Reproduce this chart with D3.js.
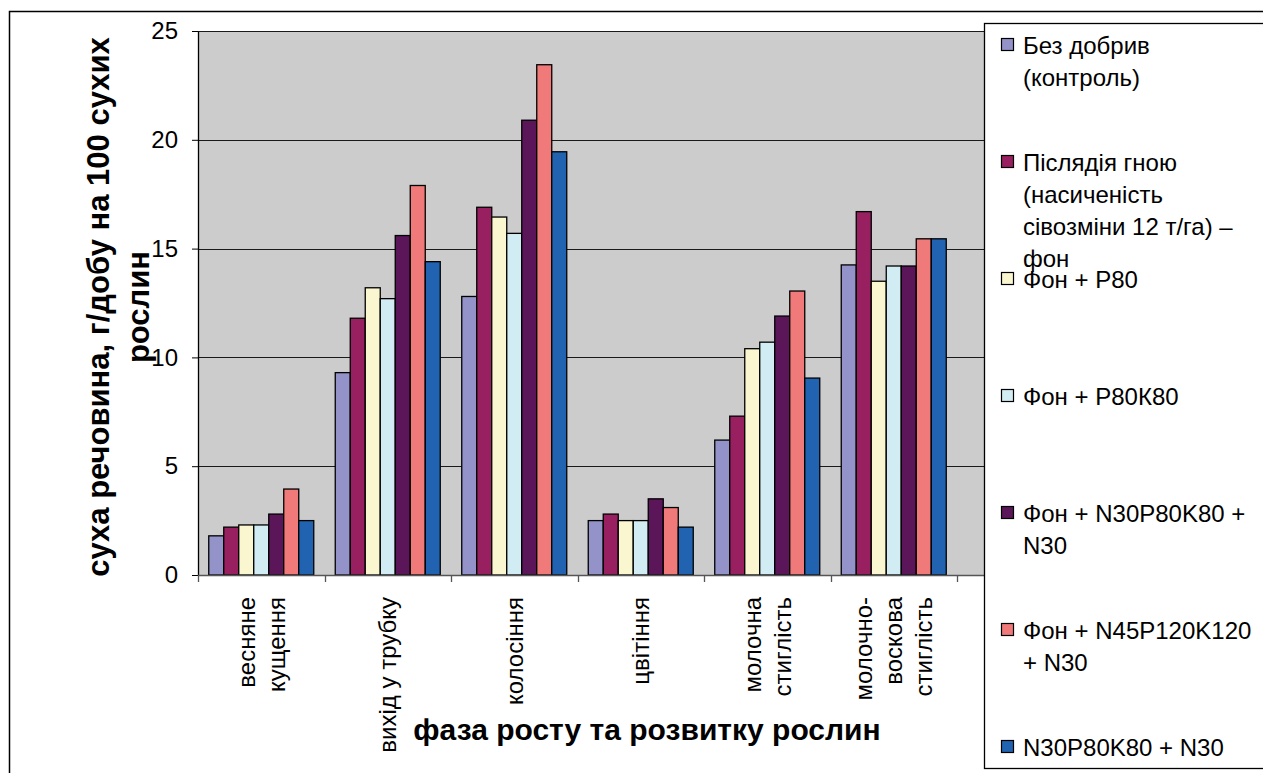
<!DOCTYPE html>
<html>
<head>
<meta charset="utf-8">
<script src="https://cdn.jsdelivr.net/npm/d3@7"></script>
<style>
  html, body { margin: 0; padding: 0; background: #fff; }
  svg { display: block; font-family: "Liberation Sans", Arial, sans-serif; }
</style>
</head>
<body>
<svg id="chart" width="1263" height="773"></svg>
<script>
// Growth phases (x categories) and their tick label lines
const categories = [
  "весняне кущення",
  "вихід у трубку",
  "колосіння",
  "цвітіння",
  "молочна стиглість",
  "молочно-воскова стиглість"
];
const categoryLines = [
  ["весняне", "кущення"],
  ["вихід у трубку"],
  ["колосіння"],
  ["цвітіння"],
  ["молочна", "стиглість"],
  ["молочно-", "воскова", "стиглість"]
];

// Fertilizer variants (series) and legend lines
const seriesNames = [
  "Без добрив (контроль)",
  "Післядія гною (насиченість сівозміни 12 т/га) – фон",
  "Фон + Р80",
  "Фон + Р80К80",
  "Фон + N30P80K80 + N30",
  "Фон + N45P120K120 + N30",
  "N30P80K80 + N30"
];
const legendLines = [
  ["Без добрив", "(контроль)"],
  ["Післядія гною", "(насиченість", "сівозміни 12 т/га) –", "фон"],
  ["Фон + Р80"],
  ["Фон + Р80К80"],
  ["Фон + N30P80K80 +", "N30"],
  ["Фон + N45P120K120", "+ N30"],
  ["N30P80K80 + N30"]
];
const seriesColors = ["#9393C9", "#982060", "#FAF7D0", "#D1ECF2", "#5A1658", "#F07A7A", "#2163B0"];

// Dry matter, g/day per 100 dry plants — one array per series, values by phase
const bezDobryv   = [1.8, 9.3, 12.8, 2.5, 6.2, 14.25];
const pisliadia   = [2.2, 11.8, 16.9, 2.8, 7.3, 16.7];
const fonP80      = [2.3, 13.2, 16.45, 2.5, 10.4, 13.5];
const fonP80K80   = [2.3, 12.7, 15.7, 2.5, 10.7, 14.2];
const fonN30P80   = [2.8, 15.6, 20.9, 3.5, 11.9, 14.2];
const fonN45P120  = [3.95, 17.9, 23.45, 3.1, 13.05, 15.45];
const n30P80K80   = [2.5, 14.4, 19.45, 2.2, 9.05, 15.45];
const seriesValues = [bezDobryv, pisliadia, fonP80, fonP80K80, fonN30P80, fonN45P120, n30P80K80];

const yTicks = [0, 5, 10, 15, 20, 25];

const svg = d3.select("#chart");
const W = 1263, H = 773;

// Plot geometry
const plot = { left: 198, right: 984, top: 31, bottom: 575 };
const bandW = 126.5;

const x = d3.scaleBand()
  .domain(categories)
  .range([plot.left, plot.left + bandW * categories.length])
  .padding(0);
const barPad = 10.75;
const x1 = d3.scaleBand()
  .domain(d3.range(seriesNames.length))
  .range([barPad, x.bandwidth() - barPad])
  .padding(0);
const y = d3.scaleLinear().domain([0, 25]).range([plot.bottom, plot.top]);

svg.append("rect").attr("width", W).attr("height", H).attr("fill", "#fff");

// Outer chart frame
svg.append("rect")
  .attr("x", 9.5).attr("y", 11.5)
  .attr("width", W).attr("height", H)
  .attr("fill", "none").attr("stroke", "#000").attr("stroke-width", 1.5);

// Plot background
svg.append("rect")
  .attr("x", plot.left).attr("y", plot.top)
  .attr("width", plot.right - plot.left).attr("height", plot.bottom - plot.top)
  .attr("fill", "#CCCCCC");

// Horizontal gridlines
svg.append("g").selectAll("line")
  .data(yTicks.filter(d => d > 0))
  .join("line")
  .attr("x1", plot.left).attr("x2", plot.right)
  .attr("y1", d => Math.round(y(d)) + 0.5).attr("y2", d => Math.round(y(d)) + 0.5)
  .attr("stroke", "#1a1a1a").attr("stroke-width", 1);

// Bars
const groups = svg.append("g").selectAll("g")
  .data(categories)
  .join("g")
  .attr("transform", d => `translate(${x(d)},0)`);

groups.selectAll("rect")
  .data((c, ci) => seriesValues.map((vals, si) => ({ si, v: vals[ci] })))
  .join("rect")
  .attr("x", d => x1(d.si))
  .attr("width", x1.bandwidth())
  .attr("y", d => y(d.v))
  .attr("height", d => y(0) - y(d.v))
  .attr("fill", d => seriesColors[d.si])
  .attr("stroke", "#000")
  .attr("stroke-width", 1.3);

// Y axis
const yAxis = svg.append("g")
  .attr("transform", `translate(${plot.left},0)`)
  .call(d3.axisLeft(y).tickValues(yTicks).tickSize(6).tickPadding(14).tickSizeOuter(0));
yAxis.select(".domain").attr("stroke", "#000").attr("stroke-width", 1.3);
yAxis.selectAll(".tick line").attr("stroke", "#000");
yAxis.selectAll(".tick text")
  .attr("font-size", 24).attr("fill", "#000")
  .attr("font-family", "Liberation Sans, Arial, sans-serif");

// X axis line and tick marks at band boundaries
const xAxisG = svg.append("g");
xAxisG.append("line")
  .attr("x1", plot.left).attr("x2", plot.right)
  .attr("y1", plot.bottom + 0.5).attr("y2", plot.bottom + 0.5)
  .attr("stroke", "#555").attr("stroke-width", 1.3);
const boundaries = categories.map(c => x(c)).concat([x.range()[1]]);
xAxisG.selectAll("line.tick")
  .data(boundaries)
  .join("line")
  .attr("class", "tick")
  .attr("x1", d => Math.round(d) + 0.5).attr("x2", d => Math.round(d) + 0.5)
  .attr("y1", plot.bottom).attr("y2", plot.bottom + 7)
  .attr("stroke", "#555").attr("stroke-width", 1.3);

// Rotated category labels
const lineGap = 30;
categories.forEach((c, ci) => {
  const lines = categoryLines[ci];
  const cx = x(c) + x.bandwidth() / 2;
  lines.forEach((ln, li) => {
    const lx = cx + (li - (lines.length - 1) / 2) * lineGap;
    svg.append("text")
      .attr("transform", `translate(${lx},597) rotate(-90)`)
      .attr("text-anchor", "end")
      .attr("dominant-baseline", "central")
      .attr("font-size", 24)
      .attr("fill", "#000")
      .text(ln);
  });
});

// Axis titles
svg.append("text")
  .attr("x", 647).attr("y", 740)
  .attr("text-anchor", "middle")
  .attr("font-size", 30).attr("font-weight", "bold")
  .text("фаза росту та розвитку рослин");

const yTitle = svg.append("text")
  .attr("transform", "translate(118,307) rotate(-90)")
  .attr("text-anchor", "middle")
  .attr("font-size", 31).attr("font-weight", "bold");
yTitle.append("tspan").attr("x", 0).attr("y", -20).attr("dominant-baseline", "central")
  .text("суха речовина, г/добу на 100 сухих");
yTitle.append("tspan").attr("x", 0).attr("y", 20).attr("dominant-baseline", "central")
  .text("рослин");

// Legend
const legend = svg.append("g");
legend.append("rect")
  .attr("x", 984.5).attr("y", 23.5)
  .attr("width", 300).attr("height", 745)
  .attr("fill", "#fff").attr("stroke", "#000").attr("stroke-width", 1.3);

const entryStart = 45, entryStep = 117, legendLineGap = 32;
seriesNames.forEach((name, si) => {
  const cy = entryStart + si * entryStep;
  legend.append("rect")
    .attr("x", 1001.5).attr("y", cy - 6.5)
    .attr("width", 12).attr("height", 12)
    .attr("fill", seriesColors[si]).attr("stroke", "#000").attr("stroke-width", 1.2);
  legendLines[si].forEach((ln, li) => {
    legend.append("text")
      .attr("x", 1023).attr("y", cy + li * legendLineGap)
      .attr("dominant-baseline", "central")
      .attr("font-size", 24).attr("fill", "#000")
      .text(ln);
  });
});
</script>
</body>
</html>
